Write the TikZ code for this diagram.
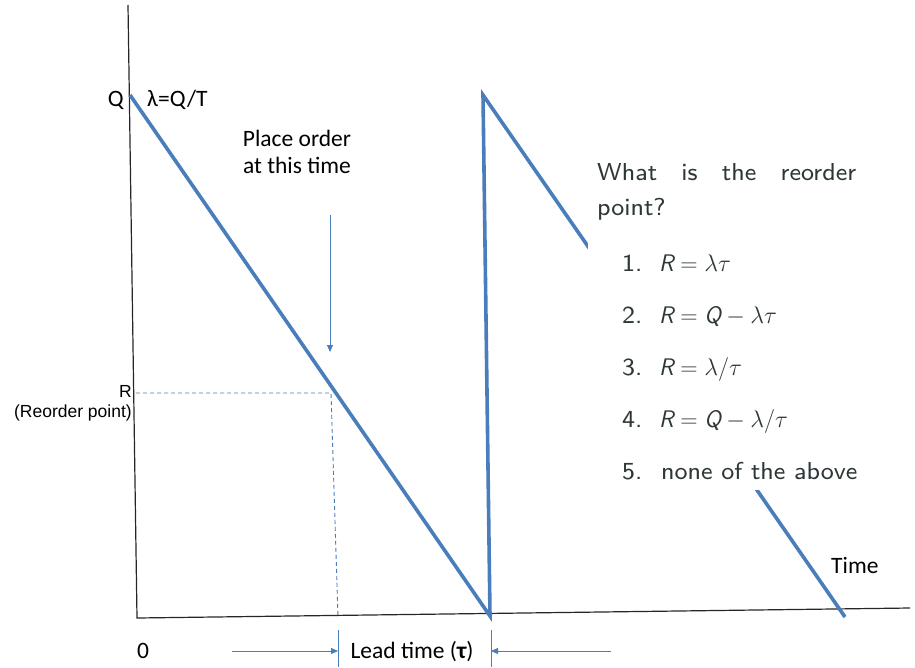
\RequirePackage{fix-cm}
\documentclass[tikz,border=0pt]{standalone}
\usepackage{fontspec}
\newfontfamily\calibri{Carlito}
\newfontfamily\arial{Liberation Sans}
\newfontfamily\slidesans{lmsans8-regular}[Extension=.otf]
\usetikzlibrary{arrows.meta,positioning}
\definecolor{stockblue}{RGB}{74,126,187}
\definecolor{slidetext}{RGB}{45,55,55}
\newcommand{\sfvar}[1]{\textsf{\itshape #1}}

\begin{document}
\begin{tikzpicture}[
    x=1pt, y=-1pt,
    >={Triangle[length=7pt,width=6pt]},
    axis/.style={draw=black!85, line width=1.2pt},
    stock/.style={draw=stockblue, line width=3.6pt},
    helper/.style={draw=stockblue, line width=0.9pt},
    guide/.style={draw=stockblue, line width=0.9pt, dash pattern=on 4pt off 3pt},
    lbl/.style={inner sep=0pt, font=\calibri\fontsize{23.5}{27}\selectfont},
    arl/.style={inner sep=0pt, font=\arial\fontsize{17.5}{20}\selectfont},
    qtext/.style={inner sep=0pt, text=slidetext, font=\slidesans\fontsize{24.5}{35}\selectfont},
    qmath/.style={inner sep=0pt, text=slidetext, font=\fontsize{24}{35}\selectfont}
]
\useasboundingbox (0,0) rectangle (915,667);

% Axes
\coordinate (ytop) at (128,5);
\coordinate (origin) at (137,618);
\coordinate (xend) at (910,608);
\draw[axis] (ytop) -- (origin) -- (xend);

% Inventory level
\coordinate (Qpt) at (130,95);
\coordinate (low1) at (490,616);
\coordinate (top2) at (483,95);
\coordinate (low2) at (845,617);
\draw[stock] (Qpt) -- (low1) -- (top2) -- (low2);

% Reorder point guides
\coordinate (Rmark) at (136,393);
\coordinate (reorderpt) at (331,393);
\coordinate (leadstart) at (338,617);
\draw[guide] (Rmark) -- (reorderpt) -- (leadstart);

% Labels on the axes
\node[lbl, anchor=base east] (Qlbl) at (124,106) {Q};
\node[lbl, anchor=base west] (rate) at (147,106) {λ=Q/T};
\node[arl, anchor=base east] (Rlbl) at (132,397) {R};
\node[arl, anchor=base east] (Rtext) at (132,417) {(Reorder point)};
\node[lbl, anchor=base west] (zero) at (137,658) {0};
\node[lbl, anchor=base west] (timelbl) at (831,573) {Time};

% Place order
\node[lbl, align=center] (placeorder) at (297,152) {Place order\\at this time};
\coordinate (ordertail) at (330,215);
\coordinate (ordertip) at (330,352);
\draw[helper, ->] (ordertail) -- (ordertip);

% Lead time
\coordinate (tickLtop) at (338,630);
\coordinate (tickLbot) at (338,667);
\coordinate (tickRtop) at (491,630);
\coordinate (tickRbot) at (491,667);
\coordinate (arrLin) at (232,651);
\coordinate (arrLhit) at (338,651);
\coordinate (arrRin) at (611,651);
\coordinate (arrRhit) at (491,651);
\draw[helper] (tickLtop) -- (tickLbot);
\draw[helper] (tickRtop) -- (tickRbot);
\draw[helper, ->] (arrLin) -- (arrLhit);
\draw[helper, ->] (arrRin) -- (arrRhit);
\node[lbl, anchor=base] (lead) at (412,658) {Lead time ({\bfseries τ})};

% Question panel
\fill[white] (588,150) rectangle (866,490);
\node[qtext, text width=259pt, align=justify, anchor=base west] (question) at (597,180)
  {What is the reorder point?};
\foreach \f [count=\i] in {
    {$\sfvar{R}=\lambda\tau$},
    {$\sfvar{R}=\sfvar{Q}-\lambda\tau$},
    {$\sfvar{R}=\lambda/\tau$},
    {$\sfvar{R}=\sfvar{Q}-\lambda/\tau$}} {
  \node[qtext, anchor=base west] (num\i) at (622,219+52*\i) {\i.};
  \node[qmath, anchor=base west] (ans\i) at (659,219+52*\i) {\f};
}
\node[qtext, anchor=base west] (num5) at (622,479) {5.};
\node[qtext, anchor=base west] (ans5) at (661,479) {none of the above};

\end{tikzpicture}
\end{document}
